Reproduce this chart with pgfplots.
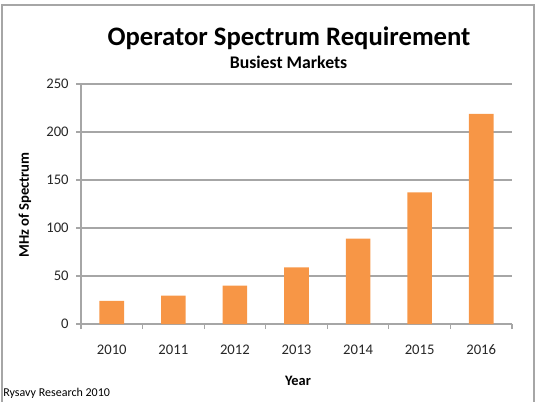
\documentclass[border=0pt]{standalone}
\usepackage{pgfplots}
\pgfplotsset{compat=1.18}
\usepackage{fontspec}
\setmainfont{Carlito}
\definecolor{barorange}{HTML}{F79646}
\definecolor{gridgray}{HTML}{A6A6A6}
\begin{document}
\begin{tikzpicture}
\useasboundingbox (0,0) rectangle (404.25pt,300.75pt);
\draw[gridgray, line width=0.9pt] (1.5pt,-2pt) -- (1.5pt,297pt) -- (400.5pt,297pt) -- (400.5pt,-2pt);
\begin{axis}[
  at={(60.75pt,57.75pt)}, anchor=south west,
  scale only axis, width=323.25pt, height=180pt,
  xmin=-0.5, xmax=6.5, ymin=0, ymax=250,
  ytick={0,50,100,150,200,250},
  xtick={0,1,2,3,4,5,6},
  xticklabels={2010,2011,2012,2013,2014,2015,2016},
  minor xtick={-0.5,0.5,1.5,2.5,3.5,4.5,5.5,6.5},
  tick align=outside,
  major tick length=3.75pt, minor tick length=3.75pt,
  xtick style={draw=none},
  ytick style={draw=gridgray, line width=0.8pt},
  minor x tick style={draw=gridgray, line width=0.8pt},
  axis x line*=bottom, axis y line*=left,
  axis line style={draw=gridgray, line width=0.8pt, -},
  ymajorgrids, grid style={draw=gridgray, line width=0.8pt},
  /pgf/number format/assume math mode=true,
  ticklabel style={font=\fontsize{11}{13}\selectfont, text=black!85},
  xticklabel style={yshift=-8.5pt},
  yticklabel style={xshift=-2pt},
]
\addplot[ybar, bar width=0.4, fill=barorange, draw=none] coordinates {
  (0,24) (1,29.5) (2,40) (3,59) (4,89) (5,137) (6,219)
};
\end{axis}
\node[anchor=base, font=\fontsize{20}{24}\selectfont\bfseries] at (216.75pt,266.6pt) {Operator Spectrum Requirement};
\node[anchor=base, font=\fontsize{13.3}{16}\selectfont\bfseries] at (216.4pt,249.75pt) {Busiest Markets};
\node[anchor=base, font=\fontsize{10.8}{13}\selectfont\bfseries] at (223.5pt,12pt) {Year};
\node[rotate=90, font=\fontsize{11}{13}\selectfont\bfseries] at (18.75pt,147pt) {MHz of Spectrum};
\node[anchor=base west, inner sep=0pt, font=\fontsize{9}{11}\selectfont] at (2.25pt,3.75pt) {Rysavy Research 2010};
\end{tikzpicture}
\end{document}
